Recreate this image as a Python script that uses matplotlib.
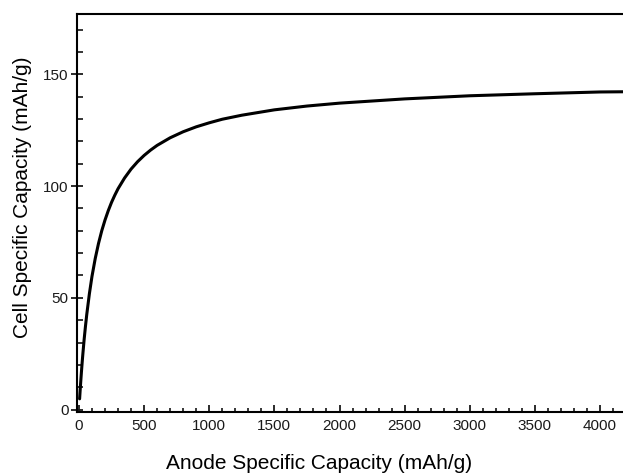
import matplotlib
matplotlib.use("Agg")
import matplotlib.pyplot as plt
from matplotlib.ticker import MultipleLocator

plt.rcParams["font.family"] = ["Liberation Sans", "DejaVu Sans"]

# ── data ───────────────────────────────────────────────────────────────────────
anode_cap = [5, 10, 15, 20, 25, 30, 40, 50, 60, 80, 100, 125, 150, 175, 200,
             225, 250, 275, 300, 350, 400, 450, 500, 550, 600, 700, 800, 900,
             1000, 1100, 1250, 1500, 1750, 2000, 2500, 3000, 3500, 4000, 4200]
cell_cap  = [4.8, 9.4, 13.6, 17.6, 21.4, 24.9, 31.5, 37.3, 42.6, 51.8, 59.6,
             67.6, 74.3, 80.0, 84.8, 89.0, 92.7, 95.9, 98.8, 103.6, 107.6,
             110.9, 113.7, 116.1, 118.2, 121.6, 124.3, 126.5, 128.3, 129.9,
             131.7, 134.1, 135.8, 137.1, 139.0, 140.4, 141.3, 142.1, 142.2]

x_ticks = [0, 500, 1000, 1500, 2000, 2500, 3000, 3500, 4000]
y_ticks = [0, 50, 100, 150]

# ── figure ─────────────────────────────────────────────────────────────────────
fig = plt.figure(figsize=(6.23, 4.75), dpi=100)
ax = fig.add_axes([0.1236, 0.1326, 0.8764, 0.838])

ax.plot(anode_cap, cell_cap, color="black", linewidth=2.2,
        solid_capstyle="round", solid_joinstyle="round")

ax.set_xlim(-15, 4176)
ax.set_ylim(-1.1, 177)
ax.set_xticks(x_ticks)
ax.set_yticks(y_ticks)
ax.xaxis.set_minor_locator(MultipleLocator(100))
ax.yaxis.set_minor_locator(MultipleLocator(10))

ax.spines["right"].set_visible(False)
for s in ("left", "bottom", "top"):
    ax.spines[s].set_linewidth(1.5)

ax.tick_params(axis="x", which="major", direction="in", length=5, width=1.3,
               labelsize=11, pad=5, colors="#1a1a1a")
ax.tick_params(axis="x", which="minor", direction="in", length=3, width=1.1)
ax.tick_params(axis="y", which="major", direction="inout", length=8, width=1.3,
               labelsize=11, pad=2, colors="#1a1a1a")
ax.tick_params(axis="y", which="minor", direction="in", length=4, width=1.1)

ax.set_xlabel("Anode Specific Capacity (mAh/g)", fontsize=15)
ax.xaxis.set_label_coords(0.443, -0.105)
ax.set_ylabel("Cell Specific Capacity (mAh/g)", fontsize=15)
ax.yaxis.set_label_coords(-0.082, 0.54)

fig.savefig("out.png", dpi=100)
